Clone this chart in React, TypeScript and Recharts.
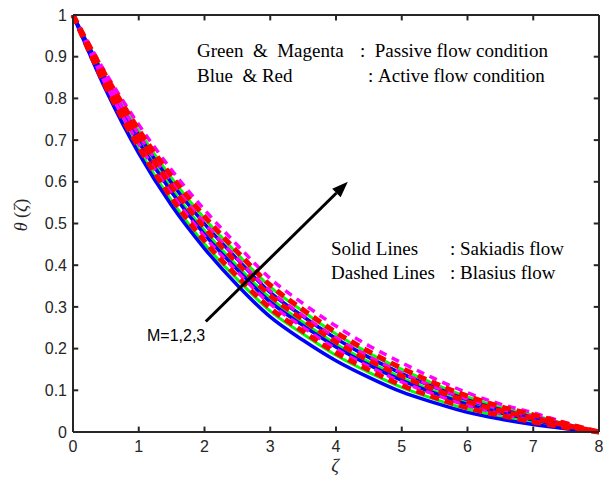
import { LineChart, Line, XAxis, YAxis, ReferenceLine } from 'recharts';

const zeta = [0, 0.5, 1, 1.5, 2, 2.5, 3, 3.5, 4, 4.5, 5, 5.5, 6, 6.5, 7, 7.5, 8];

// Sakiadis (solid) curves
const blueM1 = [1, 0.82, 0.668, 0.543, 0.44, 0.352, 0.276, 0.22, 0.171, 0.131, 0.096, 0.07, 0.047, 0.031, 0.018, 0.008, 0];
const greenM1 = [1, 0.825, 0.678, 0.555, 0.451, 0.366, 0.29, 0.235, 0.184, 0.143, 0.107, 0.079, 0.055, 0.037, 0.022, 0.01, 0];
const blueM2 = [1, 0.835, 0.695, 0.575, 0.474, 0.389, 0.312, 0.255, 0.204, 0.161, 0.124, 0.093, 0.066, 0.046, 0.029, 0.013, 0];
const greenM2 = [1, 0.839, 0.701, 0.583, 0.483, 0.398, 0.321, 0.263, 0.211, 0.168, 0.13, 0.098, 0.07, 0.049, 0.031, 0.015, 0];
const blueM3 = [1, 0.846, 0.712, 0.597, 0.499, 0.414, 0.335, 0.277, 0.224, 0.179, 0.14, 0.107, 0.077, 0.054, 0.036, 0.017, 0];
const greenM3 = [1, 0.852, 0.722, 0.609, 0.512, 0.427, 0.348, 0.289, 0.235, 0.189, 0.15, 0.115, 0.084, 0.059, 0.04, 0.019, 0];

// Blasius (dashed) curves
const redM1 = [1, 0.828, 0.683, 0.561, 0.458, 0.373, 0.297, 0.241, 0.19, 0.149, 0.112, 0.083, 0.058, 0.04, 0.024, 0.011, 0];
const magentaM1 = [1, 0.833, 0.691, 0.571, 0.469, 0.384, 0.307, 0.251, 0.199, 0.157, 0.12, 0.09, 0.063, 0.044, 0.027, 0.012, 0];
const redM2 = [1, 0.842, 0.706, 0.589, 0.49, 0.405, 0.327, 0.269, 0.216, 0.172, 0.134, 0.102, 0.073, 0.051, 0.033, 0.016, 0];
const magentaM2 = [1, 0.847, 0.714, 0.599, 0.501, 0.416, 0.338, 0.279, 0.226, 0.181, 0.142, 0.108, 0.079, 0.055, 0.037, 0.018, 0];
const redM3 = [1, 0.854, 0.725, 0.613, 0.517, 0.432, 0.352, 0.293, 0.239, 0.193, 0.153, 0.117, 0.086, 0.061, 0.041, 0.02, 0];
const magentaM3 = [1, 0.86, 0.737, 0.628, 0.533, 0.448, 0.368, 0.308, 0.254, 0.207, 0.166, 0.128, 0.094, 0.067, 0.046, 0.022, 0];

const xTicks = [0, 1, 2, 3, 4, 5, 6, 7, 8];
const yTicks = [0, 0.1, 0.2, 0.3, 0.4, 0.5, 0.6, 0.7, 0.8, 0.9, 1];

// arrow from the "M=1,2,3" label towards increasing M
const arrowFrom = { x: 2.02, y: 0.265 };
const arrowTo = { x: 4.18, y: 0.6 };

const series = [
  { key: 'g1', values: greenM1, color: '#00ff00', dash: undefined, width: 3 },
  { key: 'g2', values: greenM2, color: '#00ff00', dash: undefined, width: 3 },
  { key: 'g3', values: greenM3, color: '#00ff00', dash: undefined, width: 3 },
  { key: 'b1', values: blueM1, color: '#0000ff', dash: undefined, width: 3.5 },
  { key: 'b2', values: blueM2, color: '#0000ff', dash: undefined, width: 3.5 },
  { key: 'b3', values: blueM3, color: '#0000ff', dash: undefined, width: 3.5 },
  { key: 'm1', values: magentaM1, color: '#ff00ff', dash: '8 6', width: 3.5 },
  { key: 'm2', values: magentaM2, color: '#ff00ff', dash: '8 6', width: 3.5 },
  { key: 'm3', values: magentaM3, color: '#ff00ff', dash: '8 6', width: 3.5 },
  { key: 'r1', values: redM1, color: '#ff0000', dash: '9 6', width: 5 },
  { key: 'r2', values: redM2, color: '#ff0000', dash: '9 6', width: 5 },
  { key: 'r3', values: redM3, color: '#ff0000', dash: '9 6', width: 5 },
];

const data = zeta.map((z, i) => {
  const row: Record<string, number> = { z };
  series.forEach((s) => (row[s.key] = s.values[i]));
  return row;
});

const axisColor = '#262626';
const tickFont = { fontFamily: 'Liberation Sans, Arial, sans-serif', fontSize: 16, fill: axisColor };
const nb = (s: string) => s.replace(/ /g, '\u00a0');

const Arrow = (props: any) => {
  const { x1, y1, x2, y2 } = props;
  const ang = Math.atan2(y2 - y1, x2 - x1);
  const len = 16;
  const half = 6;
  const bx = x2 - len * Math.cos(ang);
  const by = y2 - len * Math.sin(ang);
  const px = -Math.sin(ang) * half;
  const py = Math.cos(ang) * half;
  return (
    <g>
      <line x1={x1} y1={y1} x2={bx} y2={by} stroke="#000" strokeWidth={3} />
      <polygon points={`${x2},${y2} ${bx + px},${by + py} ${bx - px},${by - py}`} fill="#000" />
    </g>
  );
};

export default function App() {
  const serif = 'Liberation Serif, Times New Roman, serif';
  return (
    <div style={{ position: 'absolute', left: 0, top: 0, width: 611, height: 484, background: '#fff' }}>
      <LineChart width={611} height={484} data={data} margin={{ top: 15, right: 12, bottom: 0, left: 0 }}>
        <XAxis
          dataKey="z"
          type="number"
          domain={[0, 8]}
          ticks={xTicks}
          tickSize={0}
          tickMargin={9}
          height={52}
          stroke={axisColor}
          strokeWidth={2}
          tick={tickFont}
        />
        <YAxis
          type="number"
          domain={[0, 1]}
          ticks={yTicks}
          tickSize={0}
          tickMargin={6}
          width={73}
          stroke={axisColor}
          strokeWidth={2}
          tick={tickFont}
        />
        {series.map((s) => (
          <Line
            key={s.key}
            dataKey={s.key}
            type="monotone"
            stroke={s.color}
            strokeWidth={s.width}
            strokeDasharray={s.dash}
            dot={false}
            activeDot={false}
            isAnimationActive={false}
          />
        ))}
        <ReferenceLine y={1} stroke={axisColor} strokeWidth={2} />
        <ReferenceLine x={8} stroke={axisColor} strokeWidth={2} />
        {xTicks.map((t) => (
          <ReferenceLine key={'xb' + t} segment={[{ x: t, y: 0 }, { x: t, y: 0.013 }]} stroke={axisColor} strokeWidth={2} />
        ))}
        {xTicks.map((t) => (
          <ReferenceLine key={'xt' + t} segment={[{ x: t, y: 1 }, { x: t, y: 0.987 }]} stroke={axisColor} strokeWidth={2} />
        ))}
        {yTicks.map((t) => (
          <ReferenceLine key={'yl' + t} segment={[{ x: 0, y: t }, { x: 0.08, y: t }]} stroke={axisColor} strokeWidth={2} />
        ))}
        {yTicks.map((t) => (
          <ReferenceLine key={'yr' + t} segment={[{ x: 8, y: t }, { x: 7.92, y: t }]} stroke={axisColor} strokeWidth={2} />
        ))}
        <ReferenceLine segment={[arrowFrom, arrowTo]} shape={<Arrow />} />
      </LineChart>
      <svg width={611} height={484} style={{ position: 'absolute', left: 0, top: 0, pointerEvents: 'none' }}>
        <g fontFamily={serif} fontSize={19} fill="#000">
          <text x={197} y={57}>{nb('Green  &  Magenta')}</text>
          <text x={360} y={57}>{nb(':  Passive flow condition')}</text>
          <text x={197} y={82}>{nb('Blue  & Red')}</text>
          <text x={368} y={82}>{nb(': Active flow condition')}</text>
          <text x={331} y={255}>{nb('Solid Lines')}</text>
          <text x={450} y={255}>{nb(': Sakiadis flow')}</text>
          <text x={331} y={279}>{nb('Dashed Lines')}</text>
          <text x={450} y={279}>{nb(': Blasius flow')}</text>
        </g>
        <text x={147} y={341} fontFamily="Liberation Sans, Arial, sans-serif" fontSize={16} fill="#000">M=1,2,3</text>
        <text x={335} y={472} textAnchor="middle" fontFamily={serif} fontSize={19} fontStyle="italic" fill={axisColor}>ζ</text>
        <text
          x={0}
          y={0}
          transform="translate(27,215) rotate(-90)"
          textAnchor="middle"
          fontFamily={serif}
          fontSize={18}
          fill={axisColor}
        >
          <tspan fontStyle="italic">θ</tspan>{'\u00a0('}<tspan fontStyle="italic">ζ</tspan>)
        </text>
      </svg>
    </div>
  );
}
